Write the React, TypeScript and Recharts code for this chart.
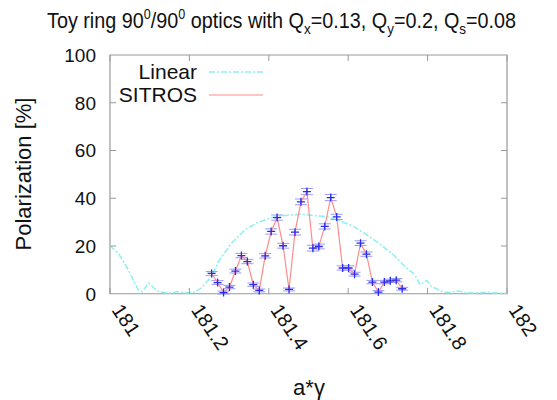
import React from 'react';
import {
  ComposedChart,
  Line,
  XAxis,
  YAxis,
  ErrorBar,
  ReferenceArea
} from 'recharts';

// SITROS tracking results (a*gamma, polarization %, error)
const sitrosX = [
  181.256, 181.271, 181.286, 181.301, 181.316, 181.331, 181.346, 181.361, 181.376, 181.391, 181.406,
  181.421, 181.436, 181.451, 181.466, 181.481, 181.496, 181.511, 181.526, 181.541, 181.556, 181.571,
  181.586, 181.601, 181.616, 181.631, 181.646, 181.661, 181.676, 181.691, 181.706, 181.721, 181.736
];
const sitrosY = [
  8.5, 4.7, 0.5, 2.8, 9.5, 16.0, 13.5, 3.8, 1.4, 15.9, 26.1,
  31.9, 20.1, 1.8, 25.8, 38.5, 42.8, 19.1, 19.8, 28.2, 40.3, 32.2,
  10.8, 10.8, 8.2, 21.2, 16.6, 4.9, 0.7, 4.9, 5.4, 5.7, 2.1
];
const sitrosErr = [
  0.8, 0.8, 0.6, 0.7, 0.8, 0.9, 0.9, 0.7, 0.6, 0.9, 1.1,
  1.1, 1.0, 0.6, 1.2, 1.2, 1.3, 1.2, 1.0, 1.1, 1.3, 1.1,
  0.9, 0.9, 0.8, 1.0, 0.9, 0.7, 0.6, 0.7, 0.7, 0.7, 0.6
];

// linear spin response
const linearX = [
  181.0, 181.021, 181.046, 181.071, 181.081, 181.097, 181.11, 181.122, 181.139, 181.155, 181.17,
  181.19, 181.21, 181.23, 181.256, 181.273, 181.306, 181.34, 181.374, 181.407, 181.44, 181.48,
  181.512, 181.546, 181.579, 181.613, 181.647, 181.68, 181.714, 181.743, 181.768, 181.781, 181.798,
  181.81, 181.836, 181.852, 181.877, 181.894, 181.92, 181.95, 181.975, 182.0
];
const linearY = [
  20.1, 17, 10, 1.7, 0.8, 4.5, 2.5, 1.0, 0.4, 0.3, 0.9,
  0.4, 0.5, 2.4, 7.2, 13.5, 21.2, 26.8, 30.0, 31.9, 32.8, 33.3,
  32.8, 32.3, 30.5, 28.2, 24.7, 20.8, 16.3, 11.4, 8.0, 3.8, 5.6,
  3.1, 1.0, 0.5, 1.2, 0.5, 0.3, 0.6, 0.3, 0.2
];

const xTicks = [181, 181.2, 181.4, 181.6, 181.8, 182];
const yTicks = [0, 20, 40, 60, 80, 100];

const sitrosData = sitrosX.map((x, i) => ({ x, y: sitrosY[i], err: sitrosErr[i] }));
const linearData = linearX.map((x, i) => ({ x, y: linearY[i] }));

const FONT = '"Liberation Sans", Arial, sans-serif';
const FRAME = '#999';
const PLOT = { left: 110, right: 507, top: 55, bottom: 294 };

const XTick = (props: any) => {
  const x = props.payload.coordinate;
  const tx = x + 1;
  const ty = PLOT.bottom + 16;
  return (
    <g>
      <line x1={x} y1={PLOT.bottom} x2={x} y2={PLOT.bottom - 6} stroke={FRAME} />
      <line x1={x} y1={PLOT.top} x2={x} y2={PLOT.top + 6} stroke={FRAME} />
      <text
        x={tx}
        y={ty}
        fontSize={20}
        fontFamily={FONT}
        fill="#111"
        textAnchor="start"
        transform={`rotate(56, ${tx}, ${ty})`}
      >
        {String(props.payload.value)}
      </text>
    </g>
  );
};

const YTick = (props: any) => {
  const y = props.payload.coordinate;
  const v = props.payload.value;
  return (
    <g>
      {v !== 0 && v !== 100 && (
        <>
          <line x1={PLOT.left} y1={y} x2={PLOT.left + 6} y2={y} stroke={FRAME} />
          <line x1={PLOT.right} y1={y} x2={PLOT.right - 6} y2={y} stroke={FRAME} />
        </>
      )}
      <text x={96} y={y} dy="0.36em" fontSize={19} fontFamily={FONT} fill="#111" textAnchor="end">
        {v}
      </text>
    </g>
  );
};

const PlusDot = (props: any) => {
  const { cx, cy, index } = props;
  if (cx == null || cy == null) return <g key={`d-${index}`} />;
  return (
    <path
      key={`d-${index}`}
      d={`M${cx - 4},${cy}h8M${cx},${cy - 4}v8`}
      stroke="#2a2af0"
      strokeWidth={1.3}
    />
  );
};

export default function App() {
  return (
    <div style={{ position: 'absolute', left: 0, top: 0, width: 557, height: 400, background: '#fff' }}>
      <ComposedChart
        width={557}
        height={400}
        margin={{ top: PLOT.top, right: 557 - PLOT.right, bottom: 46, left: 50 }}
      >
        <XAxis
          xAxisId="b"
          dataKey="x"
          type="number"
          domain={[181, 182]}
          ticks={xTicks}
          allowDataOverflow
          height={60}
          axisLine={false}
          tickLine={false}
          tick={XTick}
          interval={0}
        />
        <YAxis
          yAxisId="l"
          type="number"
          domain={[0, 100]}
          ticks={yTicks}
          width={60}
          axisLine={false}
          tickLine={false}
          tick={YTick}
          interval={0}
        />
        <ReferenceArea
          xAxisId="b"
          yAxisId="l"
          x1={181}
          x2={182}
          y1={0}
          y2={100}
          fill="none"
          stroke={FRAME}
          strokeWidth={1.2}
        />
        <Line
          xAxisId="b"
          yAxisId="l"
          data={linearData}
          dataKey="y"
          type="linear"
          stroke="#8af0f2"
          strokeWidth={1.5}
          strokeDasharray="6 2 2 2"
          dot={false}
          isAnimationActive={false}
        />
        <Line
          xAxisId="b"
          yAxisId="l"
          data={sitrosData}
          dataKey="y"
          type="linear"
          stroke="#ff8c8c"
          strokeWidth={1.2}
          dot={PlusDot}
          isAnimationActive={false}
        >
          <ErrorBar dataKey="err" width={6} stroke="#9a9af5" strokeWidth={1} direction="y" />
        </Line>
      </ComposedChart>

      <svg
        width={557}
        height={400}
        style={{ position: 'absolute', left: 0, top: 0, pointerEvents: 'none' }}
        fontFamily={FONT}
      >
        <g transform="translate(47, 28) scale(0.9, 1)">
          <text x={0} y={0} fontSize={22} fill="#111">
            Toy ring 90
            <tspan dy={-9} fontSize={14}>0</tspan>
            <tspan dy={9}>/90</tspan>
            <tspan dy={-9} fontSize={14}>0</tspan>
            <tspan dy={9}> optics with Q</tspan>
            <tspan dy={6} fontSize={15}>x</tspan>
            <tspan dy={-6}>=0.13, Q</tspan>
            <tspan dy={6} fontSize={15}>y</tspan>
            <tspan dy={-6}>=0.2, Q</tspan>
            <tspan dy={6} fontSize={15}>s</tspan>
            <tspan dy={-6}>=0.08</tspan>
          </text>
        </g>

        <text
          x={31}
          y={174}
          fontSize={22}
          fill="#111"
          textAnchor="middle"
          transform="rotate(-90, 31, 174)"
        >
          Polarization [%]
        </text>

        <text x={309} y={395} fontSize={22} fill="#111" textAnchor="middle">
          a*γ
        </text>

        <text x={197} y={79} fontSize={21} fill="#111" textAnchor="end">Linear</text>
        <line x1={209} y1={72} x2={263} y2={72} stroke="#8af0f2" strokeWidth={1.5} strokeDasharray="6 2 2 2" />
        <text x={197} y={102} fontSize={21} fill="#111" textAnchor="end">SITROS</text>
        <line x1={209} y1={95} x2={263} y2={95} stroke="#ff8c8c" strokeWidth={1.2} />
      </svg>
    </div>
  );
}
